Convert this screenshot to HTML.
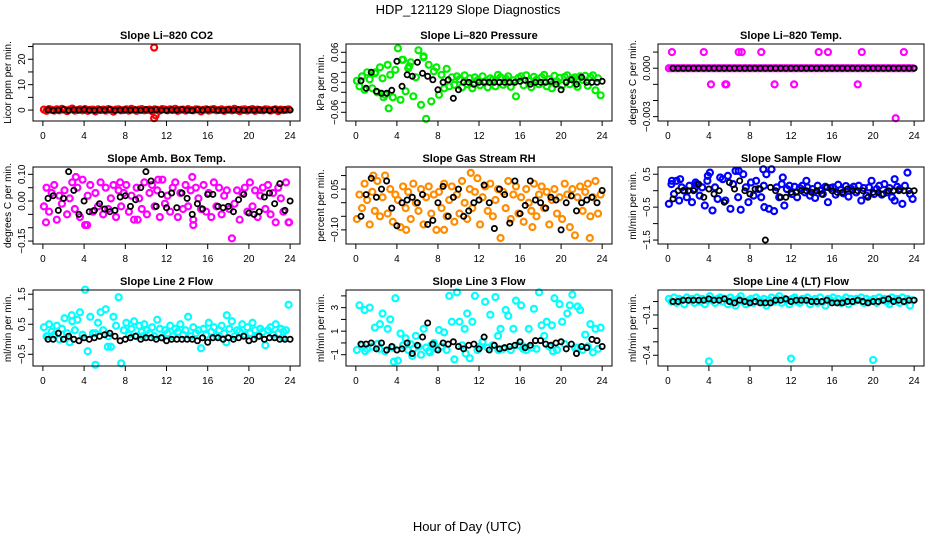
<!DOCTYPE html>
<html><head><meta charset="utf-8"><style>
html,body{margin:0;padding:0;background:#fff;}
svg{display:block;font-family:"Liberation Sans",sans-serif;}
</style></head><body>
<svg id="fig" width="936" height="540" viewBox="0 0 936 540">
<text x="468" y="14" text-anchor="middle" font-size="13">HDP_121129  Slope Diagnostics</text>
<text x="467" y="531" text-anchor="middle" font-size="13">Hour of Day (UTC)</text>
</svg>
<script>
const hoursColor=[0.1,0.35,0.6,0.85,1.1,1.35,1.6,1.85,2.1,2.35,2.6,2.85,3.1,3.35,3.6,3.85,4.1,4.35,4.6,4.85,5.1,5.35,5.6,5.85,6.1,6.35,6.6,6.85,7.1,7.35,7.6,7.85,8.1,8.35,8.6,8.85,9.1,9.35,9.6,9.85,10.1,10.35,10.6,10.85,11.1,11.35,11.6,11.85,12.1,12.35,12.6,12.85,13.1,13.35,13.6,13.85,14.1,14.35,14.6,14.85,15.1,15.35,15.6,15.85,16.1,16.35,16.6,16.85,17.1,17.35,17.6,17.85,18.1,18.35,18.6,18.85,19.1,19.35,19.6,19.85,20.1,20.35,20.6,20.85,21.1,21.35,21.6,21.85,22.1,22.35,22.6,22.85,23.1,23.35,23.6,23.85];
const hoursBlack=[0.5,1,1.5,2,2.5,3,3.5,4,4.5,5,5.5,6,6.5,7,7.5,8,8.5,9,9.5,10,10.5,11,11.5,12,12.5,13,13.5,14,14.5,15,15.5,16,16.5,17,17.5,18,18.5,19,19.5,20,20.5,21,21.5,22,22.5,23,23.5,24];
const xTicks=[0,4,8,12,16,20,24];

const co2Color=[0.2,-0.3,0.4,0.1,-0.2,0.3,-0.1,0.5,0.1,-0.4,0.2,0.6,-0.2,0,0.3,-0.1,0.4,-0.3,0.1,0.2,-0.5,0.3,0,0.2,-0.2,0.4,0.1,-0.6,0.2,0.3,-0.1,0,0.3,-0.2,0.5,0.1,-0.3,0.2,0.4,-0.1,0,0.2,-0.4,0.3,0.1,-0.2,0.4,0.2,-0.1,0.3,0,0.5,-0.3,0.1,0.2,-0.2,0.4,0,-0.1,0.3,0.2,-0.5,0.1,0.3,-0.2,0.2,0.4,-0.1,0,0.3,-0.3,0.1,0.2,-0.1,0.5,0,-0.4,0.2,0.3,-0.2,0.1,0.4,-0.3,0.2,0,-0.1,0.3,0.2,-0.2,0.1,0.3,-0.4,0.2,0,0.1,0.3];
const co2Black=[0.1,-0.1,0,0.2,-0.1,0.1,0,0.2,0,-0.1,0.1,0,0.2,-0.1,0,0.1,0,0.1,-0.1,0.2,0,0.1,0,-0.1,0.1,0,0.2,0,-0.1,0.1,0,0.2,0.1,0,-0.1,0.1,0,0.2,-0.1,0.1,0,0.1,0,-0.1,0.2,0,0.1,0];
const co2OutX=[10.8,10.8,10.95];
const co2OutY=[24.6,-3.2,-2.1];

const presColor=[0.003,-0.008,0.012,-0.015,0.02,0.006,-0.012,0.018,-0.02,0.03,0.008,-0.025,0.035,0.015,-0.03,0.025,0.068,-0.035,0.045,-0.018,0.028,0.04,-0.028,0.01,0.064,-0.045,0.052,-0.073,0.035,-0.038,0.022,0.03,-0.025,0.015,-0.012,0.027,-0.008,0.01,-0.005,0.012,0.006,-0.01,0.014,-0.004,0.008,-0.012,0.01,0.004,-0.006,0.012,0.002,-0.01,0.008,0.005,-0.008,0.015,0.01,-0.005,0.007,0.012,-0.009,0.004,-0.028,0.009,0.012,-0.006,0.014,0.003,-0.01,0.011,0.005,-0.004,0.01,0.015,-0.008,0.006,-0.012,0.013,0.002,0.009,-0.006,0.011,0.014,-0.004,0.008,0.01,-0.009,0.012,0.005,0.013,-0.007,0.01,0.014,-0.016,0.008,-0.026];
const presBlack=[0.003,-0.012,0.02,-0.018,-0.022,-0.022,-0.016,0.042,-0.008,0.015,0.012,0.04,0.018,0.012,0.005,-0.015,0,0.005,-0.032,-0.015,0,0,-0.004,0,0,0,0,0,0,0,0,0.002,0.004,-0.004,0,0,0,0.002,-0.004,-0.015,0,0.005,-0.004,0.01,0,0,0,0.002];
const presOutX=[3.2,1.9,4.5,6.6,2.7,5.2];
const presOutY=[-0.052,0.02,0.045,0.05,-0.03,0.032];

const tempColor=[0,0,0,0,0,0,0,0,0,0,0,0,0,0,0,0,0,0,0,0,0,0,0,0,0,0,0,0,0,0,0,0,0,0,0,0,0,0,0,0,0,0,0,0,0,0,0,0,0,0,0,0,0,0,0,0,0,0,0,0,0,0,0,0,0,0,0,0,0,0,0,0,0,0,0,0,0,0,0,0,0,0,0,0,0,0,0,0,0,0,0,0,0,0,0,0];
const tempBlack=[0,0,0,0,0,0,0,0,0,0,0,0,0,0,0,0,0,0,0,0,0,0,0,0,0,0,0,0,0,0,0,0,0,0,0,0,0,0,0,0,0,0,0,0,0,0,0,0];
const tempOutX=[0.4,3.5,6.9,7.2,9.1,14.7,15.6,18.9,23,4.2,5.6,5.7,10.4,12.3,18.5,22.2];
const tempOutY=[0.001,0.001,0.001,0.001,0.001,0.001,0.001,0.001,0.001,-0.001,-0.001,-0.001,-0.001,-0.001,-0.001,-0.0031];

const ambColor=[-0.02,0.05,-0.04,0.03,0.06,-0.07,0.02,-0.01,0.04,-0.05,0.01,0.07,-0.03,0.05,-0.06,0.08,-0.09,0.02,0.06,-0.04,0.03,-0.02,0.07,-0.05,0.05,-0.03,0.01,0.06,-0.06,0.04,-0.02,0.03,0.06,-0.04,0.02,-0.07,0.05,0.01,-0.03,0.07,-0.05,0.03,0.06,-0.02,0.04,-0.06,0.08,-0.01,0.02,-0.04,0.05,0.07,-0.06,0.03,-0.03,0.06,-0.02,0.04,-0.07,0.05,0.01,-0.03,0.06,-0.04,0.03,-0.06,0.07,-0.02,0.05,-0.05,0.02,0.04,-0.03,-0.14,-0.01,0.04,-0.07,0.03,0.05,-0.04,0.07,-0.02,0.04,-0.06,0.02,0.05,-0.03,0.06,-0.05,0.03,-0.08,0.05,0.01,-0.04,0.07,-0.08];
const ambBlack=[0.01,0.02,-0.035,0.01,0.11,0.04,-0.05,0,-0.04,-0.035,-0.01,-0.03,-0.04,-0.035,0.015,0.02,-0.02,0.005,0.05,0.11,0.075,-0.02,0.025,-0.025,0.03,-0.025,0.03,0.01,-0.05,-0.01,-0.03,0.025,0.025,-0.02,-0.025,-0.02,-0.04,0.005,0.025,-0.045,-0.05,-0.04,0.015,0.03,-0.01,0.065,-0.035,0];
const ambOutX=[0.3,4.3,9.2,14.6,23.9,3.2,14.5,7.5,11.2];
const ambOutY=[-0.08,-0.09,-0.07,-0.09,-0.08,0.09,0.09,0.07,0.08];

const rhColor=[-0.06,0.03,-0.02,0.07,0.01,-0.08,0.04,-0.03,0.08,-0.05,0.02,0.1,-0.04,0.05,-0.07,0.03,0.01,-0.09,0.06,-0.02,0.04,-0.06,0.07,0,-0.03,0.05,-0.08,0.02,0.06,-0.04,0.03,-0.1,0.04,-0.02,0.07,-0.05,0.01,0.06,-0.07,0.03,-0.04,0.08,0,-0.06,0.05,-0.02,0.04,0.09,-0.08,0.02,0.06,-0.03,0.07,-0.05,0.01,0.05,-0.13,0.04,-0.02,0.08,-0.06,0.03,0.06,-0.04,0.02,-0.07,0.05,0,-0.03,0.07,-0.05,0.03,0.06,-0.02,0.04,-0.08,0.01,0.05,-0.04,0.02,-0.06,0.07,0.03,-0.09,0.05,-0.12,0.02,0.06,-0.03,0.04,0.07,-0.05,0.02,0.08,-0.04,0.03];
const rhBlack=[-0.05,0.03,0.09,0.02,0.05,0.08,-0.02,-0.085,0,0.01,0.02,0,0.03,-0.08,-0.065,0,0.06,-0.05,0.02,0.05,-0.05,-0.03,0,0.01,0.065,0,-0.095,0.05,0.03,-0.075,0.08,-0.04,-0.01,0.08,0.01,0,-0.02,0.02,0.01,-0.1,0,0.025,-0.03,0,0.01,0.02,0,0.045];
const rhOutX=[1.7,4.9,11.2,17.2,22.8,8.6];
const rhOutY=[0.1,-0.1,0.11,-0.09,-0.13,-0.1];

const sampColor=[-0.4,0.2,-0.1,0.3,-0.3,0.1,0,-0.2,0.15,-0.35,0.05,0.2,-0.15,0.1,-0.45,0.3,0.55,-0.6,0.1,-0.25,0.4,0.35,-0.3,0.45,-0.55,0.2,0.6,-0.2,-0.58,0.5,0.1,-0.35,0.25,-0.15,0.3,0.05,-0.2,0.15,0.5,-0.55,0.65,-0.62,0.1,-0.2,0.2,-0.45,0.05,0.15,-0.1,0.12,-0.2,0.08,0.15,-0.05,0.1,-0.15,0.05,-0.22,0.15,0,-0.1,0.12,-0.35,0.08,0.1,-0.12,0.18,0.02,-0.08,0.14,-0.18,0.06,0.12,-0.05,0.15,-0.3,0.08,-0.15,0.1,0.3,-0.1,0.05,0.15,-0.12,0.2,-0.05,0.08,-0.2,-0.3,0.12,0.05,-0.4,0.15,0.55,-0.1,-0.25];
const sampBlack=[-0.25,0,0,0,0,0.2,-0.2,0.05,-0.1,0,-0.35,0.25,0.05,0.3,0,-0.1,0.05,0.05,-1.5,0.1,0,-0.2,-0.2,-0.05,-0.05,0,0,-0.05,0,-0.1,0.1,0,-0.05,-0.05,0.05,0,0,0,-0.2,-0.05,-0.05,-0.1,0,0,0,0,0,0];
const sampOutX=[0.4,1.2,2.7,3.9,6.9,9.3,9.4,11.2,13.5,22.1];
const sampOutY=[0.3,0.35,0.25,0.45,0.6,0.65,-0.5,0.4,0.3,0.35];

const l2Color=[0.4,0.1,0.5,0.25,0.15,0.45,0,0.35,0.7,0.2,-0.1,0.6,0.3,0.65,0.9,0.15,1.65,-0.4,0.75,0.2,-0.85,0.55,0.9,0.3,1,0.1,-0.25,0.75,0.45,1.4,-0.8,0.3,0.55,0.15,0.35,0.6,0.1,0.45,0.25,0.5,0.3,0.2,0.4,0.1,0.65,0.35,0.05,0.3,0.2,0.45,0.1,0.35,0.25,0.5,0.15,0.3,0.75,0.1,0.4,0.2,0.3,-0.3,0.35,0.15,0.55,0.25,0.4,0.1,0.3,0.45,0.2,0.8,0.35,0.6,0.1,0.3,0.25,0.5,0.15,0.4,0.2,0.55,0.3,0.1,0.35,0.25,-0.2,0.3,0.4,0.15,0.5,0.2,0.35,0.25,0.3,1.15];
const l2Black=[0,0,0.2,0,0.1,0,-0.05,0.05,0,0.05,0.1,0.15,0.2,0.1,-0.05,0,0.05,0.1,0,0.05,0.05,0,0.05,-0.05,0,0,0,0,0,-0.05,0.05,-0.1,0.05,0.05,0,0.05,0,0.05,0.1,-0.05,0,0.1,0,0.05,0.05,0,0,0];
const l2OutX=[0.5,2.8,5.1,6.3,9.7,17.8,23.3];
const l2OutY=[0.1,0.8,0.2,-0.25,0.1,-0.1,0.05];

const l3Color=[-0.6,3.2,-0.2,2.8,-0.5,3,-0.3,1.3,-0.1,1.6,2.5,-0.7,1.2,2,-0.4,3.8,-1.5,0.8,-0.2,0.4,-0.6,-0.1,-0.5,0.6,-0.3,-1,1.2,-0.4,-0.7,-0.2,0,-0.5,1.1,-0.3,0.9,-0.6,4,1.8,-1.4,4.3,1.8,-0.2,1.2,2.5,-1.3,1.8,4,-0.6,-0.3,0.1,3.5,-0.4,2.4,-0.2,3.9,0.6,1.2,-0.5,2.8,2.3,-0.6,1.2,3.6,-0.2,3.2,-0.3,-0.6,1.2,-0.4,2.9,-0.5,4.3,1.5,0.6,1.8,-0.3,1.5,3.8,-0.6,3.3,1.8,-0.1,2.5,3.2,4.1,-0.4,3.1,2.8,-0.6,0.7,-0.3,1.6,-0.8,1.2,-0.5,1.3];
const l3Black=[-0.1,-0.1,0,-0.5,0,-0.6,-0.3,-0.6,-0.5,0,-0.9,-0.2,0.5,1.7,-0.1,-0.6,0,-0.1,0.1,-0.3,-0.5,-0.2,-0.1,-0.5,0.5,-0.6,-0.2,-0.5,-0.4,-0.3,-0.2,0.1,-0.4,-0.2,0.2,0.2,-0.1,-0.2,0,0.1,-0.5,-0.1,-0.9,-0.3,-0.4,0.3,0.2,-0.3];
const l3OutX=[0.9,2.3,3.7,5.5,7.2,10.7,13.9,16.3,19.2,21.6];
const l3OutY=[-0.7,-0.5,-1.6,-1.1,-0.8,-0.9,-0.6,-0.5,-0.7,-0.4];

const l4Color=[0.02,0,0.03,-0.01,0.02,0.01,-0.02,0.03,0.01,0.02,-0.01,0.03,0,0.02,-0.02,0.01,0.04,0.01,-0.01,0.02,0.03,0,0.02,-0.02,0.03,0.01,-0.03,0.02,0.04,0,-0.02,0.01,0.02,-0.01,0.03,0.01,0,0.02,-0.03,0.01,0.03,0,0.02,0.04,-0.01,0.02,0.01,-0.02,0.02,0.03,0,-0.01,0.02,0.01,0.03,-0.02,0.01,0.02,-0.01,0.03,0,-0.03,0.02,0.01,0.03,0,0.02,-0.01,0.01,0.03,-0.02,0.02,0,0.02,0.01,0.03,-0.01,0.02,0,0.01,0.02,-0.01,0.03,0.01,0.02,0,-0.02,0.03,0.01,0.02,-0.01,0.03,0,0.02,-0.03,0.01];
const l4Black=[0,0,0.01,0.01,0.01,0.01,0.01,0.02,0.01,0.01,0.02,0,-0.01,0.01,0,-0.01,0,-0.01,-0.01,-0.01,0.01,0.01,0.02,0,0.01,0.01,0.01,0,0,0,0.01,-0.01,-0.01,-0.01,0,0,0.01,0,-0.01,0,0,0.01,0.02,0,0.01,0,0.01,0.01];
const l4OutX=[4,12,20];
const l4OutY=[-0.445,-0.425,-0.435];

const panels=[
 {name:'co2',title:'Slope Li\u2013820 CO2',ylab:'Licor ppm per min.',col:0,row:0,ymin:-4.3,ymax:26,color:'#ff0000',c:co2Color,b:co2Black,ox:co2OutX,oy:co2OutY,yt:[0,5,10,15,20,25],yl:[0,10,20],fmt:v=>String(v)},
 {name:'pressure',title:'Slope Li\u2013820 Pressure',ylab:'kPa per min.',col:1,row:0,ymin:-0.0774,ymax:0.0766,color:'#00ee00',c:presColor,b:presBlack,ox:presOutX,oy:presOutY,yt:[-0.06,-0.04,-0.02,0,0.02,0.04,0.06],yl:[-0.06,0,0.06],fmt:v=>v.toFixed(2).replace('-','\u2212')},
 {name:'temp',title:'Slope Li\u2013820 Temp.',ylab:'degrees C per min.',col:2,row:0,ymin:-0.00327,ymax:0.0015,color:'#ff00ff',c:tempColor,b:tempBlack,ox:tempOutX,oy:tempOutY,yt:[-0.003,-0.002,-0.001,0,0.001],yl:[-0.003,0],fmt:v=>v.toFixed(3).replace('-','\u2212')},
 {name:'amb-box-temp',title:'Slope Amb. Box Temp.',ylab:'degrees C per min.',col:0,row:1,ymin:-0.161,ymax:0.1275,color:'#ff00ff',c:ambColor,b:ambBlack,ox:ambOutX,oy:ambOutY,yt:[-0.15,-0.1,-0.05,0,0.05,0.1],yl:[-0.15,0,0.1],fmt:v=>v.toFixed(2).replace('-','\u2212')},
 {name:'gas-stream-rh',title:'Slope Gas Stream RH',ylab:'percent per min.',col:1,row:1,ymin:-0.152,ymax:0.1315,color:'#ff8c00',c:rhColor,b:rhBlack,ox:rhOutX,oy:rhOutY,yt:[-0.1,-0.05,0,0.05,0.1],yl:[-0.1,0.05],fmt:v=>v.toFixed(2).replace('-','\u2212')},
 {name:'sample-flow',title:'Slope Sample Flow',ylab:'ml/min per min.',col:2,row:1,ymin:-1.62,ymax:0.72,color:'#0000ff',c:sampColor,b:sampBlack,ox:sampOutX,oy:sampOutY,yt:[-1.5,-1,-0.5,0,0.5],yl:[-1.5,-0.5,0.5],fmt:v=>v.toFixed(1).replace('-','\u2212')},
 {name:'line2-flow',title:'Slope Line 2 Flow',ylab:'ml/min per min.',col:0,row:2,ymin:-0.89,ymax:1.64,color:'#00ffff',c:l2Color,b:l2Black,ox:l2OutX,oy:l2OutY,yt:[-0.5,0,0.5,1,1.5],yl:[-0.5,0.5,1.5],fmt:v=>v.toFixed(1).replace('-','\u2212')},
 {name:'line3-flow',title:'Slope Line 3 Flow',ylab:'ml/min per min.',col:1,row:2,ymin:-1.96,ymax:4.5,color:'#00ffff',c:l3Color,b:l3Black,ox:l3OutX,oy:l3OutY,yt:[-1,0,1,2,3,4],yl:[-1,1,3],fmt:v=>String(v).replace('-','\u2212')},
 {name:'line4-flow',title:'Slope Line 4 (LT) Flow',ylab:'ml/min per min.',col:2,row:2,ymin:-0.48,ymax:0.086,color:'#00ffff',c:l4Color,b:l4Black,ox:l4OutX,oy:l4OutY,yt:[-0.4,-0.3,-0.2,-0.1,0],yl:[-0.4,-0.1],fmt:v=>v.toFixed(1).replace('-','\u2212')}
];
const colX=[[33,300],[346,612],[658,924]];
const rowY=[[44,121],[167,244],[290,366]];
const NS='http://www.w3.org/2000/svg';
const svg=document.getElementById('fig');
function mk(tag,attrs,parent){const e=document.createElementNS(NS,tag);for(const k in attrs)e.setAttribute(k,attrs[k]);parent.appendChild(e);return e;}
panels.forEach(p=>{
 const [x0,x1]=colX[p.col],[y0,y1]=rowY[p.row];
 const xs=v=>x0+(v+0.96)/25.92*(x1-x0);
 const ys=v=>y1-(v-p.ymin)/(p.ymax-p.ymin)*(y1-y0);
 const g=mk('g',{},svg);
 
 
 const t=mk('text',{x:(x0+x1)/2,y:y0-5,'text-anchor':'middle','font-size':11,'font-weight':'bold'},g);
 t.textContent=p.title;
 
 
 const yt=mk('text',{x:0,y:0,'text-anchor':'middle','font-size':10,transform:`translate(${x0-22},${(y0+y1)/2}) rotate(-90)`},g);
 yt.textContent=p.ylab;
 
 
 const pts=mk('g',{fill:'none'},g);
 
 
 hoursColor.forEach((h,i)=>{const c=mk('circle',{cx:xs(h),cy:ys(p.c[i]),r:3,stroke:p.color,'stroke-width':2.2},pts);
  
  });
 p.ox.forEach((h,i)=>{const c=mk('circle',{cx:xs(h),cy:ys(p.oy[i]),r:3,stroke:p.color,'stroke-width':2.2},pts);
  
  });
 hoursBlack.forEach((h,i)=>{const c=mk('circle',{cx:xs(h),cy:ys(p.b[i]),r:2.6,stroke:'#000','stroke-width':1.8},pts);
  
  });
 const box=mk('rect',{x:x0,y:y0,width:x1-x0,height:y1-y0,fill:'none',stroke:'#000','stroke-width':1},g);
 
 
 xTicks.forEach(v=>{const X=xs(v);
  const l=mk('line',{x1:X,x2:X,y1:y1,y2:y1+5,stroke:'#000'},g);
  
  
  const tx=mk('text',{x:X,y:y1+18,'text-anchor':'middle','font-size':10},g);
  tx.textContent=String(v);
  
  });
 p.yt.forEach(v=>{const Y=ys(v);
  const l=mk('line',{x1:x0-5,x2:x0,y1:Y,y2:Y,stroke:'#000'},g);
  
  });
 p.yl.forEach(v=>{const Y=ys(v);
  const tx=mk('text',{x:0,y:0,'text-anchor':'middle','font-size':10,transform:`translate(${x0-8},${Y}) rotate(-90)`},g);
  tx.textContent=p.fmt(v);
  
  });
});
</script>
</body></html>
